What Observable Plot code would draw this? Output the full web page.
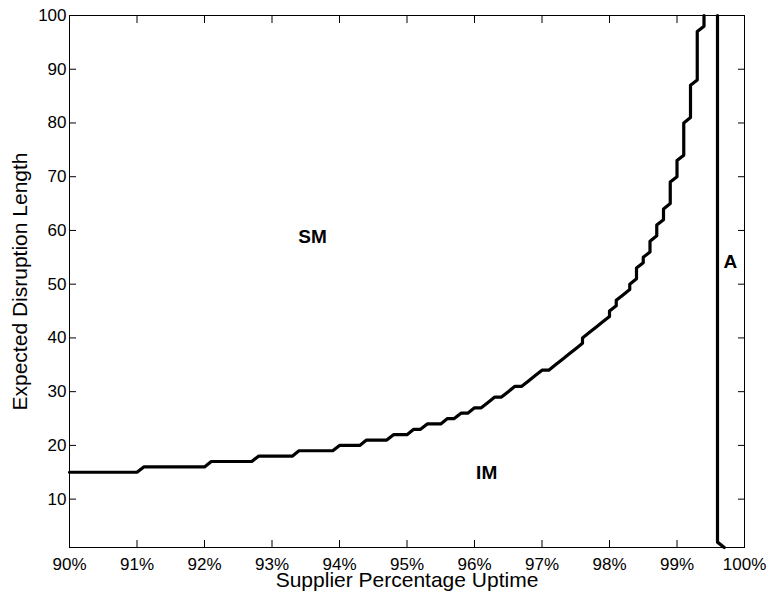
<!DOCTYPE html>
<html>
<head>
<meta charset="utf-8">
<script src="https://cdn.jsdelivr.net/npm/d3@7"></script>
<script src="https://cdn.jsdelivr.net/npm/@observablehq/plot@0.6"></script>
<style>
  body { margin: 0; background: #fff; }
</style>
</head>
<body>
<div id="chart"></div>
<script>
// Boundary between the SM and IM regions: vertices of the staircase contour
const uptime = [
  90.0, 91.0, 91.1, 92.0, 92.1, 92.7, 92.8, 93.3, 93.4, 93.9,
  94.0, 94.3, 94.4, 94.7, 94.8, 95.0, 95.1, 95.2, 95.3, 95.5,
  95.6, 95.7, 95.8, 95.9, 96.0, 96.1, 96.2, 96.3, 96.4, 96.5,
  96.6, 96.7, 96.8, 96.9, 97.0, 97.1, 97.2, 97.3, 97.4, 97.5,
  97.6, 97.6, 97.7, 97.8, 97.9, 98.0, 98.0, 98.1, 98.1, 98.2,
  98.3, 98.3, 98.4, 98.4, 98.5, 98.5, 98.6, 98.6, 98.7, 98.7,
  98.8, 98.8, 98.9, 98.9, 99.0, 99.0, 99.1, 99.1, 99.2, 99.2,
  99.3, 99.3, 99.4, 99.4
];
const disruption = [
  15, 15, 16, 16, 17, 17, 18, 18, 19, 19,
  20, 20, 21, 21, 22, 22, 23, 23, 24, 24,
  25, 25, 26, 26, 27, 27, 28, 29, 29, 30,
  31, 31, 32, 33, 34, 34, 35, 36, 37, 38,
  39, 40, 41, 42, 43, 44, 45, 46, 47, 48,
  49, 50, 51, 53, 54, 55, 56, 58, 59, 61,
  62, 64, 65, 69, 70, 73, 74, 80, 81, 87,
  88, 97, 98, 100
];

// Boundary of the A region (near-vertical line)
const uptimeA = [99.6, 99.6, 99.7];
const disruptionA = [100, 2, 1];

// Region labels and their anchor points (data coordinates)
const regionNames = ["SM", "IM", "A"];
const regionUptime = [93.6, 96.18, 99.79];
const regionDisruption = [58.8, 14.9, 54.2];

// Axis ticks and titles
const xTicks = [90, 91, 92, 93, 94, 95, 96, 97, 98, 99, 100];
const yTicks = [10, 20, 30, 40, 50, 60, 70, 80, 90, 100];
const xTitle = "Supplier Percentage Uptime";
const yTitle = "Expected Disruption Length";

const boundary = uptime.map((u, i) => ({uptime: u, length: disruption[i]}));
const boundaryA = uptimeA.map((u, i) => ({uptime: u, length: disruptionA[i]}));
const regions = regionNames.map((n, i) => ({name: n, uptime: regionUptime[i], length: regionDisruption[i]}));

const font = "'Liberation Sans', Arial, Helvetica, sans-serif";

const chart = Plot.plot({
  width: 771,
  height: 601,
  marginLeft: 69,
  marginRight: 27,
  marginTop: 15,
  marginBottom: 54,
  style: {fontFamily: font, fontSize: "17px", background: "#fff", color: "#000"},
  x: {domain: [90, 100]},
  y: {domain: [1, 100]},
  marks: [
    Plot.axisX({ticks: xTicks, tickFormat: d => d + "%", tickSize: -7, tickPadding: 17, label: null, fontSize: 17}),
    Plot.axisX({anchor: "top", ticks: xTicks, tickFormat: () => "", tickSize: -7, label: null}),
    Plot.axisY({ticks: yTicks, tickSize: -7, tickPadding: 10, label: null, fontSize: 17}),
    Plot.axisY({anchor: "right", ticks: yTicks, tickFormat: () => "", tickSize: -7, label: null}),
    Plot.frame({stroke: "#000", strokeWidth: 1}),
    Plot.line(boundary, {x: "uptime", y: "length", stroke: "#000", strokeWidth: 3.2}),
    Plot.line(boundaryA, {x: "uptime", y: "length", stroke: "#000", strokeWidth: 3.2}),
    Plot.text(regions, {x: "uptime", y: "length", text: "name", fontWeight: "bold", fontSize: 19, fill: "#000"}),
    Plot.text([xTitle], {frameAnchor: "bottom", textAnchor: "middle", lineAnchor: "top", dy: 25, text: d => d, fontSize: 21, fill: "#000"}),
    Plot.text([yTitle], {frameAnchor: "left", textAnchor: "middle", lineAnchor: "middle", dx: -49, rotate: -90, text: d => d, fontSize: 21, fill: "#000"})
  ]
});

document.getElementById("chart").appendChild(chart);
</script>
</body>
</html>
